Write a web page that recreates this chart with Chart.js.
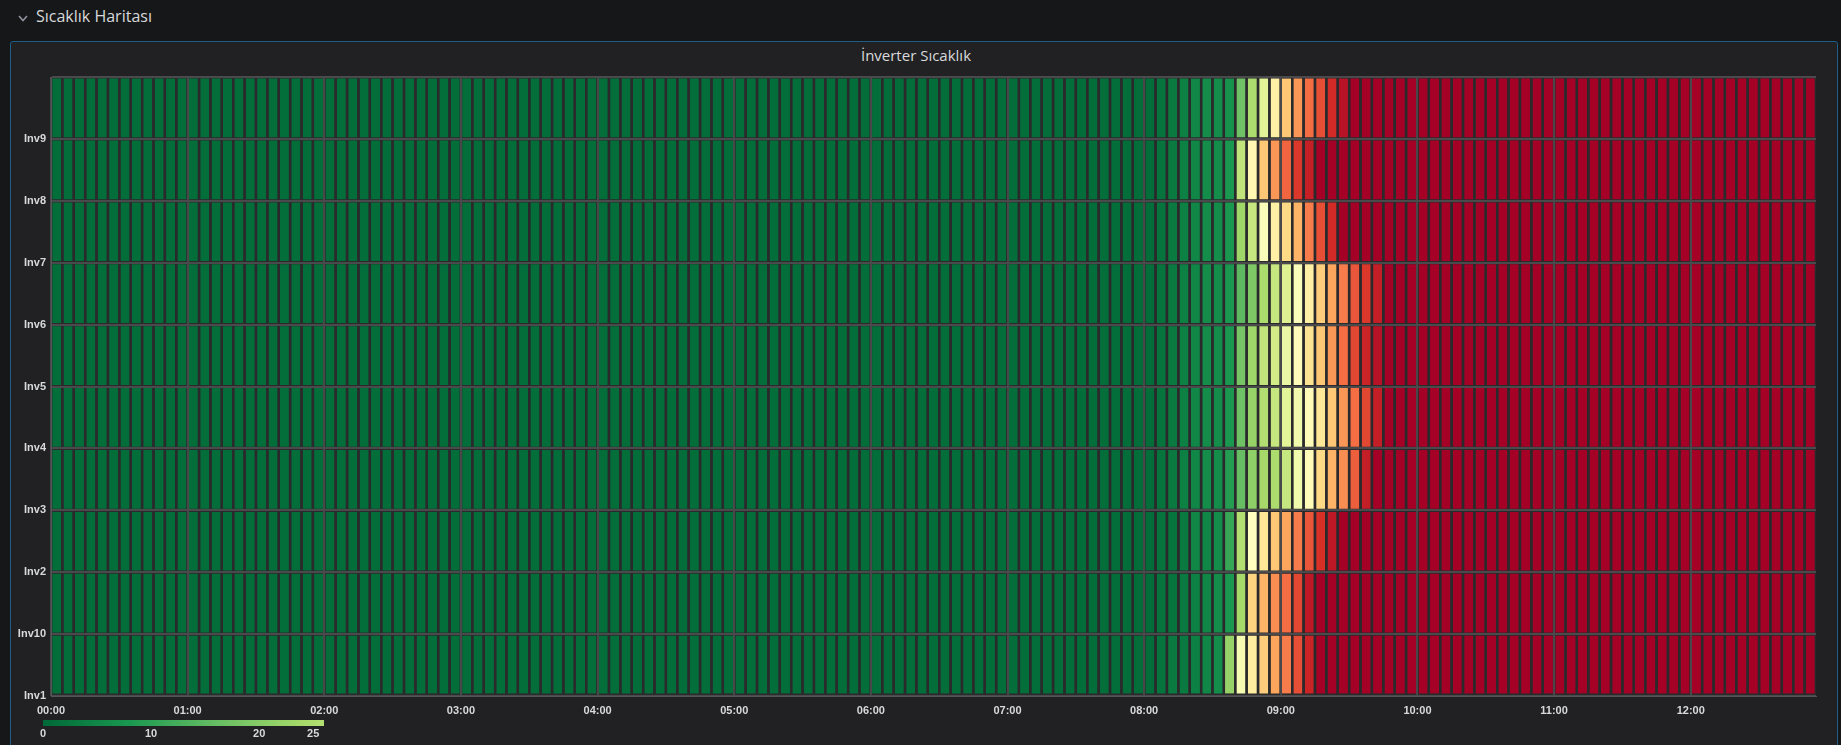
<!DOCTYPE html>
<html>
<head>
<meta charset="utf-8">
<script src="https://cdn.jsdelivr.net/npm/chart.js@4.4.1/dist/chart.umd.min.js"></script>
<style>
  html, body { margin: 0; padding: 0; }
  body { width: 1841px; height: 745px; overflow: hidden; position: relative; background: #161719; }
  #rowhdr { position: absolute; left: 36px; top: 3px; font: 16px "Open Sans", sans-serif; color: #d8d9da; line-height: 26px; white-space: nowrap; }
  #chev { position: absolute; left: 0; top: 0; }
  #panel { position: absolute; left: 10px; top: 41px; width: 1826px; height: 760px; background: #212124; border: 1px solid #1f5d84; border-radius: 3px; }
  #ptitle { position: absolute; left: 10px; top: 45px; width: 1812px; text-align: center; font: 15px "Open Sans", sans-serif; color: #d8d9da; line-height: 20px; }
  #c { position: absolute; left: 0; top: 0; }
</style>
</head>
<body>
<svg id="chev" width="40" height="30"><polyline points="19,16 23,20.5 27,16" fill="none" stroke="#8f959c" stroke-width="1.6"/></svg>
<div id="rowhdr">Sıcaklık Haritası</div>
<div id="panel"></div>
<div id="ptitle">İnverter Sıcaklık</div>
<canvas id="c" width="1841" height="745"></canvas>
<script>
// ---------- data ----------
// rows from bottom to top
const inverters = ["Inv1", "Inv10", "Inv2", "Inv3", "Inv4", "Inv5", "Inv6", "Inv7", "Inv8", "Inv9"];
const hourLabels = ["00:00","01:00","02:00","03:00","04:00","05:00","06:00","07:00","08:00","09:00","10:00","11:00","12:00"];
const bucketMinutes = 5;          // 5-minute buckets from 00:00
const legendTicks = [0, 10, 20, 25];
const legendMax = 26;
const colorScaleMax = 80;

// a run of identical readings (cells that all show the same colour)
function run(value, count) { return Array(count).fill(value); }

const Inv1  = [...run(1, 96), 1, 2, 3, 3, 4, 5, 6, 22, 38, 45, 51, 57, 62, 68, 74, ...run(80, 44)];
const Inv10 = [...run(1, 96), 1, 2, 2, 3, 4, 5, 6, 8, 24, 50, 55, 60, 64, 69, 76, ...run(80, 44)];
const Inv2  = [...run(1, 96), 1, 2, 2, 3, 5, 5, 6, 11, 26, 40, 46, 52, 57, 62, 67, 72, 76, ...run(80, 42)];
const Inv3  = [...run(1, 96), 1, 2, 3, 4, 5, 6, 6, 9, 16, 21, 24, 25, 29, 37, 41, 49, 55, 60, 66, 75, ...run(80, 39)];
const Inv4  = [...run(1, 96), 1, 2, 3, 4, 5, 6, 6, 8, 17, 22, 26, 29, 34, 37, 41, 46, 52, 59, 64, 69, 75, ...run(80, 38)];
const Inv5  = [...run(1, 96), 1, 2, 3, 4, 5, 6, 6, 8, 18, 23, 28, 31, 36, 41, 47, 52, 59, 64, 69, 74, 77, ...run(80, 38)];
const Inv6  = [...run(1, 96), 1, 2, 3, 4, 5, 6, 6, 8, 15, 19, 25, 29, 33, 39, 44, 51, 57, 62, 67, 71, 75, ...run(80, 38)];
const Inv7  = [...run(1, 96), 1, 2, 3, 4, 5, 6, 6, 8, 23, 29, 39, 44, 49, 55, 62, 68, 73, ...run(80, 42)];
const Inv8  = [...run(1, 96), 1, 2, 3, 4, 5, 6, 6, 8, 28, 42, 52, 59, 65, 71, 75, ...run(80, 44)];
const Inv9  = [...run(1, 96), 1, 2, 3, 4, 5, 6, 6, 7, 17, 25, 34, 44, 52, 59, 64, 68, 73, 77, ...run(80, 41)];

const rowValues = [Inv1, Inv10, Inv2, Inv3, Inv4, Inv5, Inv6, Inv7, Inv8, Inv9];

// ---------- colour scale (RdYlGn reversed) ----------
const stops = ['#006837','#1a9850','#66bd63','#a6d96a','#d9ef8b','#ffffbf','#fee08b','#fdae61','#f46d43','#d73027','#a50026'];
function hex(h) { return [parseInt(h.slice(1,3),16), parseInt(h.slice(3,5),16), parseInt(h.slice(5,7),16)]; }
const stopRgb = stops.map(hex);
function colorFor(v) {
  let t = Math.max(0, Math.min(1, v / colorScaleMax)) * (stops.length - 1);
  const i = Math.min(stops.length - 2, Math.floor(t));
  const f = t - i;
  const a = stopRgb[i], b = stopRgb[i + 1];
  const c = a.map((x, k) => Math.round(x + (b[k] - x) * f));
  return `rgb(${c[0]},${c[1]},${c[2]})`;
}

const nBuckets = Inv1.length;
const xMax = nBuckets * bucketMinutes;

const datasets = inverters.map((name, r) => ({
  label: name,
  data: rowValues[r].map((v, c) => ({ x: c * bucketMinutes + bucketMinutes / 2, y: [r, r + 1] })),
  backgroundColor: rowValues[r].map(colorFor),
  borderColor: 'rgba(0,0,0,0)',
  borderWidth: { top: 1.6, bottom: 1.6, left: 0, right: 0 },
  borderSkipped: false,
  grouped: false,
  categoryPercentage: 1,
  barPercentage: 0.79
}));

const tickFont = { family: '"Liberation Sans", Arial, sans-serif', size: 11, weight: 'bold' };
const tickColor = '#d8d9da';

const bgPlugin = {
  id: 'plotBg',
  beforeDraw(chart) {
    const { ctx, chartArea: a } = chart;
    ctx.save();
    ctx.fillStyle = '#2a2a2c';
    ctx.fillRect(a.left, a.top, a.right - a.left, a.bottom - a.top);
    ctx.restore();
  }
};

const legendPlugin = {
  id: 'colorLegend',
  afterDraw(chart) {
    const ctx = chart.ctx;
    const x0 = 43, x1 = 324, y0 = 720, h = 6;
    const g = ctx.createLinearGradient(x0, 0, x1, 0);
    for (let v = 0; v <= legendMax; v++) g.addColorStop(v / legendMax, colorFor(v));
    ctx.save();
    ctx.fillStyle = g;
    ctx.fillRect(x0, y0, x1 - x0, h);
    ctx.fillStyle = tickColor;
    ctx.font = `bold 11px ${tickFont.family}`;
    ctx.textAlign = 'center';
    ctx.textBaseline = 'middle';
    legendTicks.forEach(v => {
      ctx.fillText(String(v), x0 + (x1 - x0) * v / legendMax, 734);
    });
    ctx.restore();
  }
};

new Chart(document.getElementById('c'), {
  type: 'bar',
  data: { datasets },
  plugins: [bgPlugin, legendPlugin],
  options: {
    responsive: false,
    animation: false,
    events: [],
    layout: { padding: { left: 0, right: 1841 - 1816, top: 77, bottom: 0 } },
    plugins: { legend: { display: false }, tooltip: { enabled: false } },
    scales: {
      x: {
        type: 'linear',
        min: 0,
        max: xMax,
        offset: false,
        afterFit(s) { s.height = 49; },
        grid: { color: '#48484a', lineWidth: 2, drawTicks: false, offset: false },
        border: { color: '#555557', width: 1 },
        ticks: {
          stepSize: 60,
          includeBounds: false,
          autoSkip: false,
          maxRotation: 0,
          padding: 8,
          color: tickColor,
          font: tickFont,
          callback: v => hourLabels[v / 60] ?? ''
        }
      },
      y: {
        type: 'linear',
        min: 0,
        max: inverters.length,
        afterFit(s) { s.width = 51; },
        grid: { color: '#4a4a4c', lineWidth: 2, drawTicks: false, offset: false },
        border: { color: '#555557', width: 1 },
        ticks: {
          stepSize: 1,
          autoSkip: false,
          padding: 5,
          color: tickColor,
          font: tickFont,
          callback: v => inverters[v] ?? ''
        }
      }
    }
  }
});
</script>
</body>
</html>
